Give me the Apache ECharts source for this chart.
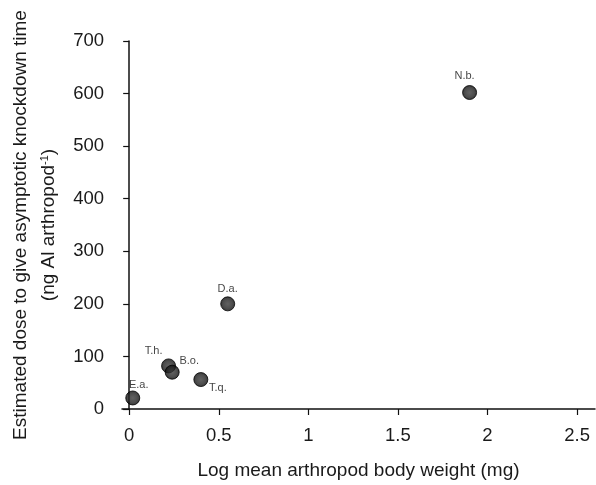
<!DOCTYPE html>
<html>
<head>
<meta charset="utf-8">
<script src="https://cdn.jsdelivr.net/npm/echarts@6/dist/echarts.min.js"></script>
<style>
  html, body { margin: 0; padding: 0; background: #fff; }
  #chart { width: 596px; height: 485px; }
</style>
</head>
<body>
<div id="chart"></div>
<script>
// species codes and their values
var species = ['E.a.', 'T.h.', 'B.o.', 'T.q.', 'D.a.', 'N.b.'];
var logWeight = [0.02, 0.22, 0.24, 0.40, 0.55, 1.90];
var dose = [21, 82, 70, 56, 200, 602];
var xTicks = [0, 0.5, 1, 1.5, 2, 2.5];

// where each species label sits relative to its dot (px)
var labelOffset = {
  'E.a.': [6, -13],
  'T.h.': [-15, -15],
  'B.o.': [17, -11],
  'T.q.': [17, 8],
  'D.a.': [0, -15],
  'N.b.': [-5, -17]
};

var points = species.map(function (s, i) {
  return {
    name: s,
    value: [logWeight[i], dose[i]],
    label: { offset: labelOffset[s] }
  };
});

var font = 'Liberation Sans, Arial, Helvetica, sans-serif';
var myChart = echarts.init(document.getElementById('chart'));

myChart.setOption({
  backgroundColor: '#fff',
  animation: false,
  grid: { left: 122, right: 1, top: 41, bottom: 76, outerBoundsMode: 'none', containLabel: false },
  xAxis: {
    type: 'value',
    min: -0.04,
    max: 2.6,
    name: 'Log mean arthropod body weight (mg)',
    nameLocation: 'middle',
    nameGap: 52,
    nameMoveOverlap: false,
    nameTextStyle: { fontFamily: font, fontSize: 19, color: '#1a1a1a' },
    axisLine: { lineStyle: { color: '#111', width: 1.5 } },
    axisTick: { customValues: xTicks, length: 6, lineStyle: { color: '#111', width: 1.2 } },
    axisLabel: {
      customValues: xTicks,
      fontFamily: font, fontSize: 18.5, color: '#1a1a1a', margin: 17
    },
    splitLine: { show: false }
  },
  yAxis: {
    type: 'value',
    min: 0,
    max: 700,
    interval: 100,
    name: '{a|Estimated dose to give asymptotic knockdown time}\n{b|(ng Al arthropod}{s|-1}{b|)}',
    nameLocation: 'middle',
    nameGap: 59,
    nameMoveOverlap: false,
    nameTextStyle: {
      rich: {
        a: { fontFamily: font, fontSize: 19, color: '#1a1a1a', lineHeight: 28 },
        b: { fontFamily: font, fontSize: 19, color: '#1a1a1a', lineHeight: 28 },
        s: { fontFamily: font, fontSize: 11, color: '#1a1a1a', lineHeight: 28, padding: [0, 0, 9, 0] }
      }
    },
    axisLine: { show: true, lineStyle: { color: '#111', width: 1.5 } },
    axisTick: { show: true, length: 6, lineStyle: { color: '#111', width: 1.2 } },
    axisLabel: { fontFamily: font, fontSize: 18.5, color: '#1a1a1a', margin: 18 },
    splitLine: { show: false }
  },
  series: [{
    type: 'scatter',
    symbolSize: 14,
    data: points,
    itemStyle: {
      color: {
        type: 'radial', x: 0.5, y: 0.5, r: 0.5,
        colorStops: [
          { offset: 0, color: '#3a3a3a' },
          { offset: 0.6, color: '#222' },
          { offset: 1, color: '#050505' }
        ]
      },
      borderColor: '#000',
      borderWidth: 1
    },
    label: {
      show: true,
      position: 'inside',
      formatter: '{b}',
      fontFamily: font,
      fontSize: 11,
      color: '#111'
    }
  }]
});
</script>
</body>
</html>
